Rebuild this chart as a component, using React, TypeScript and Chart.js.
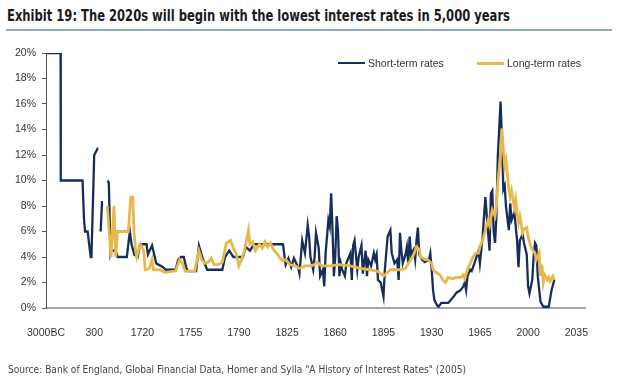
import React, { useEffect, useLayoutEffect, useRef } from 'react';
import { Chart, registerables } from 'chart.js';

Chart.register(...registerables);

const xTickLabels = ['3000BC', '300', '1720', '1755', '1790', '1825', '1860', '1895', '1930', '1965', '2000', '2035'];
const yTickValues = [0, 2, 4, 6, 8, 10, 12, 14, 16, 18, 20];

const shortYears = [
  -3000, -2000, -1990, -500, -400, -330, -150, 60, 110, 300, 400, 420, 450, 490, 530, 560, 650, 700, 730, 780, 800, 930, 990, 1260, 1350, 1400, 1480, 1580, 1650, 1700,
  1723, 1724, 1727, 1729, 1730, 1735, 1737, 1744, 1746, 1748, 1750, 1752, 1753, 1759, 1761, 1764, 1767, 1778, 1780, 1783, 1786, 1793, 1795, 1798, 1801, 1822,
  1824, 1826, 1828, 1830, 1833, 1834, 1836, 1838, 1840, 1841, 1842, 1844, 1845, 1846, 1848, 1849, 1851, 1852, 1853, 1855, 1856, 1857, 1858, 1859, 1860, 1861,
  1862, 1863, 1864, 1865, 1867, 1868, 1871, 1872, 1873, 1874, 1876, 1877, 1879, 1880, 1882, 1883, 1884, 1886, 1888, 1889, 1890, 1891, 1893, 1895, 1896, 1898,
  1900, 1901, 1903, 1905, 1906, 1907, 1908, 1909, 1911, 1912, 1913, 1914, 1915, 1917, 1918, 1919, 1920, 1921, 1923, 1925, 1928, 1929, 1930, 1931, 1932, 1934,
  1935, 1937, 1942, 1946, 1948, 1951, 1953, 1954, 1955, 1956, 1958, 1959, 1961, 1964, 1965, 1967, 1968, 1969, 1971, 1972, 1973, 1974, 1975, 1976, 1977, 1978,
  1980, 1981, 1982, 1983, 1984, 1986, 1987, 1988, 1990, 1992, 1993, 1994, 1996, 1997, 1999, 2000, 2001, 2003, 2004, 2005, 2006, 2007, 2009, 2011, 2015, 2017, 2019,
];
const shortRates = [
  20, 20, 10, 10, 7, 6, 6, 4, 4, 12, 12.5, 12.5, null, 6, 8.3, 8.3, null, 10, 9.8, 4.3, 4.5, 4.5, 4, 4, 6, 5, 4.2, 4, 5, 5,
  5, 4.2, 4.9, 4, 3.5, 3.2, 3, 3, 3.8, 4, 4, 3.1, 2.9, 2.9, 4.9, 3.8, 3, 3, 4, 4.5, 4, 4, 4.8, 4.5, 5, 5,
  3.4, 3.9, 3.2, 3.9, 3.2, 2.7, 5.3, 4.3, 6.5, 5.6, 4, 3, 4, 5.9, 4.7, 2.5, 3, 1.7, 4.3, 6.9, 6.4, 9, 6.1, 2.5, 4, 7.2,
  6.1, 2.5, 3.5, 3, 2.5, 3.5, 4.3, 2.2, 4.9, 5.3, 3, 4, 4.9, 2.7, 4.5, 2.5, 3.8, 3.3, 4.3, 3.8, 4.2, 2.2, 2, 0.9, 3, 5.6,
  6.1, 4.3, 3.5, 3.8, 2.2, 5.9, 4.5, 3.5, 4.2, 4.8, 3.5, 5.6, 4.2, 4.6, 3.8, 5.3, 6.3, 4.2, 3.8, 3.6, 3.8, 4.3, 3, 1.4, 0.6, 0.2,
  0.1, 0.4, 0.4, 0.9, 1.2, 1.4, 1.7, 2, 1.4, 2.5, 3, 2.9, 3.5, 4.5, 3.5, 5.6, 7.2, 8.7, 5.8, 4.5, 9, 9.2, 6, 5.1, 7.2, 11.9,
  16.2, 13.2, 9.3, 9.6, 7.9, 6.1, 8.2, 6.9, 7.5, 5.3, 3.2, 5.3, 5.8, 5.1, 4.2, 1.7, 1.15, 2.2, 4, 5.1, 4.9, 2.5, 0.5, 0.1, 0.1, 1.4, 2.2,
];

const longYears = [
  686, 795, 883, 933, 986, 1305, 1375, 1434, 1472, 1520, 1552, 1600, 1660, 1700,
  1721, 1722, 1725, 1727, 1728, 1733, 1736, 1744, 1746, 1747, 1749, 1751, 1758, 1761, 1763, 1765, 1768, 1770, 1772, 1775, 1778, 1781, 1784, 1786, 1788, 1790,
  1792, 1794, 1797, 1798, 1800, 1802, 1805, 1807, 1809, 1811, 1813, 1815, 1818, 1820, 1822, 1824, 1827, 1831, 1834, 1838, 1842, 1845, 1847, 1850, 1856, 1863,
  1871, 1878, 1885, 1890, 1892, 1895, 1897, 1900, 1907, 1911, 1913, 1915, 1917, 1919, 1921, 1922, 1925, 1927, 1930, 1931, 1933, 1936, 1938, 1940, 1942, 1945,
  1948, 1951, 1953, 1954, 1956, 1958, 1960, 1962, 1964, 1965, 1967, 1969, 1971, 1972, 1974, 1976, 1977, 1978, 1980, 1981, 1982, 1983, 1984, 1986, 1987, 1988,
  1990, 1991, 1992, 1993, 1994, 1996, 1997, 1999, 2000, 2002, 2003, 2005, 2006, 2008, 2009, 2010, 2011, 2012, 2014, 2015, 2016, 2018, 2019,
];
const longRates = [
  8, 4, 8, 4, 6, 6, 8.7, 8.7, 6, 4.5, 4, 4.5, 5, 4.8,
  4.5, 3, 3.1, 3.8, 3, 3, 2.8, 2.9, 3.5, 3.8, 3.5, 2.9, 2.9, 4.5, 3.8, 3.5, 3.6, 3.9, 3.4, 3.4, 3.6, 5.1, 5.3, 4.7, 4.3, 3.3,
  3.8, 4.5, 6.1, 5, 5.2, 4.5, 5, 4.7, 5.2, 4.8, 5.1, 4.6, 4.2, 3.9, 3.7, 3.8, 3.4, 3.3, 3.1, 3.3, 3.3, 3.4, 3.6, 3.3, 3.3, 3.4,
  3.3, 3.1, 3.0, 2.9, 2.8, 2.5, 2.7, 3.0, 3.0, 3.1, 3.5, 3.8, 4.2, 4.8, 4.6, 4.0, 3.8, 3.8, 3.5, 3.0, 2.8, 2.6, 2.2, 2.0, 2.4, 2.3,
  2.4, 2.4, 2.6, 2.3, 3.0, 3.5, 4.0, 4.3, 4.3, 4.8, 5.3, 6.1, 6.9, 6.5, 7.7, 7.2, 8, 9.8, 12, 14.1, 12.5, 11.1, 11.6, 9.3, 8.7, 9.2,
  7.9, 8.5, 7.4, 6.7, 7.2, 5.9, 6.2, 6.3, 5.6, 4.8, 4.6, 4.3, 3.8, 4.3, 2.5, 3.4, 2.0, 2.6, 2.2, 2.4, 2.1, 2.5, 2.2,
];

const NAVY = '#172e5c';
const GOLD = '#e6b94a';

// Category-style axis: 3000BC -> 300 -> 1720 one step each, then 35 years per step.
function yearToPos(year: number): number {
  if (year < 300) return (year + 3000) / 3300;
  if (year < 1720) return 1 + (year - 300) / 1420;
  return 2 + (year - 1720) / 35;
}

function fitWidth(el: HTMLElement | null, target: number) {
  if (!el) return;
  el.style.transform = 'none';
  const w = el.getBoundingClientRect().width;
  if (w > 0) el.style.transform = `scaleX(${target / w})`;
}

export default function App() {
  const canvasRef = useRef<HTMLCanvasElement>(null);
  const titleRef = useRef<HTMLSpanElement>(null);
  const sourceRef = useRef<HTMLSpanElement>(null);

  useLayoutEffect(() => {
    fitWidth(titleRef.current, 503);
    fitWidth(sourceRef.current, 458);
  }, []);

  useEffect(() => {
    const tickFont = { family: '"Liberation Sans", Arial, sans-serif', size: 10.5 };
    const chart = new Chart(canvasRef.current as HTMLCanvasElement, {
      type: 'line',
      data: {
        datasets: [
          {
            label: 'Short-term rates',
            data: shortYears.map((yr, i) => ({ x: yearToPos(yr), y: shortRates[i] })),
            borderColor: NAVY,
            borderWidth: 2.3,
            pointRadius: 0,
            tension: 0,
            spanGaps: false,
            order: 1,
          },
          {
            label: 'Long-term rates',
            data: longYears.map((yr, i) => ({ x: yearToPos(yr), y: longRates[i] })),
            borderColor: GOLD,
            borderWidth: 2.8,
            pointRadius: 0,
            tension: 0,
            spanGaps: false,
            order: 0,
          },
        ],
      },
      options: {
        responsive: false,
        animation: false,
        layout: { padding: { top: 53, right: 45, bottom: 44, left: 0 } },
        plugins: { legend: { display: false }, tooltip: { enabled: false }, title: { display: false } },
        scales: {
          x: {
            type: 'linear',
            min: 0,
            max: 11.18,
            afterBuildTicks: (scale: any) => {
              scale.ticks = xTickLabels.map((_, i) => ({ value: i }));
            },
            afterFit: (scale: any) => {
              scale.height = 30;
            },
            grid: { display: false },
            border: { display: true, color: '#a8a8a8', width: 2 },
            ticks: {
              autoSkip: false,
              maxRotation: 0,
              padding: 11,
              color: '#333333',
              font: tickFont,
              callback: (_v: any, index: number) => xTickLabels[index] ?? '',
            },
          },
          y: {
            type: 'linear',
            min: 0,
            max: 20,
            afterBuildTicks: (scale: any) => {
              scale.ticks = yTickValues.map((v) => ({ value: v }));
            },
            afterFit: (scale: any) => {
              scale.width = 46;
            },
            grid: { drawOnChartArea: false, drawTicks: true, tickLength: 4, color: '#595959' },
            border: { display: true, color: '#595959', width: 1 },
            ticks: {
              padding: 6,
              color: '#333333',
              font: tickFont,
              callback: (v: any) => `${v}%`,
            },
          },
        },
      },
    } as any);
    return () => chart.destroy();
  }, []);

  const legendText: React.CSSProperties = {
    position: 'absolute',
    fontFamily: '"Liberation Sans", Arial, sans-serif',
    fontSize: '10.5px',
    color: '#333',
    lineHeight: '12px',
    whiteSpace: 'nowrap',
  };

  return (
    <div style={{ position: 'absolute', left: 0, top: 0, width: 630, height: 382, background: '#fff', overflow: 'hidden' }}>
      <div style={{ position: 'absolute', left: 7, top: 7, whiteSpace: 'nowrap', lineHeight: '18px' }}>
        <span
          ref={titleRef}
          style={{
            display: 'inline-block',
            transformOrigin: 'left center',
            fontFamily: '"Liberation Sans Narrow", "DejaVu Sans Condensed", "Liberation Sans", sans-serif',
            fontWeight: 'bold',
            fontSize: '16px',
            color: '#1a1a1a',
          }}
        >
          Exhibit 19: The 2020s will begin with the lowest interest rates in 5,000 years
        </span>
      </div>
      <div style={{ position: 'absolute', left: 6, top: 29, width: 606, height: 2, background: '#8fa3c3' }} />
      <canvas ref={canvasRef} width={630} height={382} style={{ position: 'absolute', left: 0, top: 0, width: 630, height: 382 }} />
      <div style={{ position: 'absolute', left: 338, top: 62, width: 27, height: 2, background: NAVY }} />
      <div style={{ ...legendText, left: 368, top: 57 }}>Short-term rates</div>
      <div style={{ position: 'absolute', left: 477, top: 62, width: 27, height: 2.5, background: GOLD }} />
      <div style={{ ...legendText, left: 507, top: 57 }}>Long-term rates</div>
      <div style={{ position: 'absolute', left: 8, top: 361, whiteSpace: 'nowrap', lineHeight: '14px' }}>
        <span
          ref={sourceRef}
          style={{
            display: 'inline-block',
            transformOrigin: 'left center',
            fontFamily: '"Liberation Sans Narrow", "DejaVu Sans Condensed", "Liberation Sans", sans-serif',
            fontSize: '11px',
            color: '#444',
          }}
        >
          Source: Bank of England, Global Financial Data, Homer and Sylla "A History of Interest Rates" (2005)
        </span>
      </div>
    </div>
  );
}
